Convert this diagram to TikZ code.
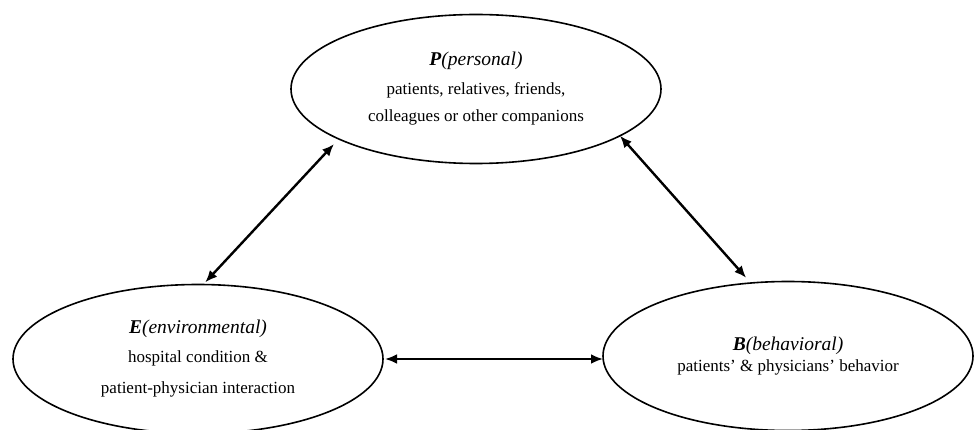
\documentclass[tikz,border=0pt]{standalone}
\usepackage{fontspec}
\setmainfont{Liberation Serif}
\usetikzlibrary{shapes.geometric,arrows.meta}

\begin{document}
\begin{tikzpicture}[x=1pt,y=-1pt,
      main node/.style={ellipse,draw,line width=1.6pt,inner sep=0pt,outer sep=0pt,
        minimum width=370pt,minimum height=149pt,align=center,
        font=\fontsize{17}{29}\selectfont},
      arrow line/.style={line width=2.4pt,{Latex[length=12pt,width=10pt]}-{Latex[length=12pt,width=10pt]}}]
      \useasboundingbox (0,0) rectangle (974,430);

      \newcommand{\headline}[2]{{\fontsize{19.5}{29}\selectfont\textbf{\textit{#1}}\textit{(#2)}}}

      \node[main node] (P) at (476,89) {\headline{P}{personal}\\ patients, relatives, friends,\\[-2pt] colleagues or other companions};
      \node[main node] (E) at (198,359) {\headline{E}{environmental}\\ hospital condition \&\\[2pt] patient-physician interaction};
      \node[main node] (B) at (788,356) {\headline{B}{behavioral}\\[-8pt] patients’ \& physicians’ behavior};


      \path[arrow line]
        (P.200) edge[shorten <=7pt,shorten >=3pt] (E.86)
        (P.342) edge[shorten >=7pt] (B.117)
        (E.east) edge[shorten <=2pt] (E.east -| B.west);
    \end{tikzpicture}
\end{document}
